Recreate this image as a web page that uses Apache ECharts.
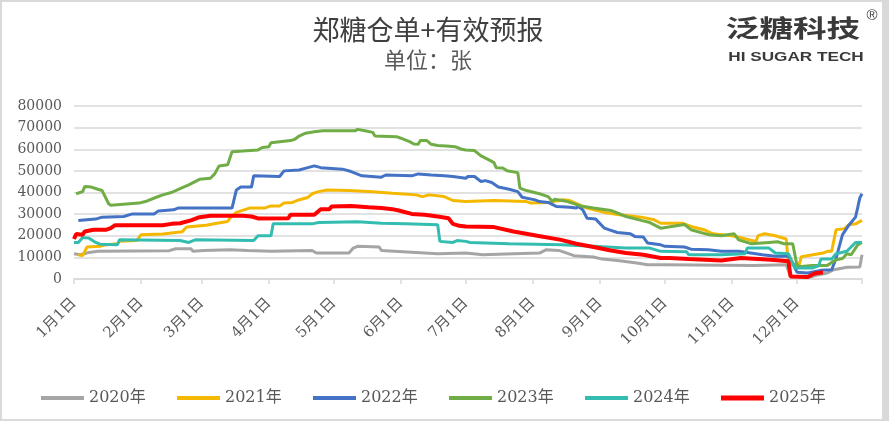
<!DOCTYPE html>
<html><head><meta charset="utf-8">
<script src="https://cdn.jsdelivr.net/npm/echarts@6/dist/echarts.min.js"></script>
<style>
html,body{margin:0;padding:0;background:#d9d9d9;width:889px;height:421px;overflow:hidden;}
#c{position:absolute;left:2px;top:2px;width:880px;height:417px;background:#fff;}
</style></head><body><div id="c"></div>
<script>
// ---- categories (day of year) ----
const monthDays = [31,28,31,30,31,30,31,31,30,31,30,31];
const categories = [];
const monthStartIdx = [];
monthDays.forEach((n, mi) => {
  monthStartIdx.push(categories.length);
  for (let d = 1; d <= n; d++) categories.push((mi + 1) + '月' + d + '日');
});
const monthStartSet = new Set(monthStartIdx);

// ---- legend names & colours ----
const years = ['2020年','2021年','2022年','2023年','2024年','2025年'];
const colors = ['#A5A5A5','#F5B800','#4472C4','#70AD47','#33BDB0','#FF0000'];

// ---- y axis ----
const yTicks = [0,10000,20000,30000,40000,50000,60000,70000,80000];

// ---- series values: [dayIndex, value] ----
const s2020 = [[0,11700],[3,11200],[7,12300],[11,12800],[44,13100],[47,14000],[54,14000],[55,12800],[60,13200],[72,13500],[80,13200],[91,12800],[110,13200],[112,12000],[127,12000],[129,14300],[131,15100],[141,14800],[142,13200],[158,12300],[168,11700],[181,12000],[189,11200],[203,11700],[215,12000],[218,13500],[224,13200],[231,10800],[240,10200],[244,9200],[251,8600],[260,7400],[265,6600],[273,6600],[314,6300],[329,6600],[331,1200],[340,900],[344,2000],[348,2800],[351,4300],[357,5400],[363,5600],[364,11200]];
const s2021 = [[2,11200],[4,10800],[6,14800],[12,15100],[14,15700],[20,16300],[21,17400],[29,17800],[31,20500],[41,20800],[50,21800],[52,24000],[61,24900],[66,25800],[71,26600],[72,28100],[75,30800],[81,32800],[88,32800],[91,33800],[95,33800],[97,35100],[101,35400],[103,36300],[105,36900],[108,37700],[110,39400],[113,40400],[117,41200],[127,40900],[138,40400],[147,39700],[158,38900],[161,38100],[164,38900],[171,38100],[175,36300],[181,35800],[194,36300],[209,35800],[211,35100],[219,35400],[226,36600],[229,36300],[237,32800],[245,30800],[252,29700],[262,28600],[268,27400],[271,25800],[281,25800],[285,24300],[291,22800],[295,20900],[304,20000],[308,19100],[315,17400],[316,20000],[319,20900],[324,20000],[329,18500],[330,6600],[335,6600],[336,10300],[346,12000],[348,12800],[350,12800],[352,22800],[356,23300],[358,25100],[361,25500],[364,27100]];
const s2022 = [[2,27100],[10,27700],[13,28600],[23,28900],[27,30100],[37,30100],[39,31500],[46,32000],[48,32800],[73,32800],[75,41200],[77,42500],[82,42500],[83,47700],[95,47400],[97,50000],[104,50400],[108,51500],[111,52300],[114,51500],[124,50800],[128,49700],[133,47700],[142,47100],[144,48100],[156,47700],[159,48600],[165,48100],[171,47700],[175,47400],[181,46600],[182,47400],[185,47400],[188,45100],[190,45500],[193,44600],[196,42500],[201,41500],[205,40400],[207,37800],[213,36600],[215,35800],[219,35400],[223,33500],[229,33200],[232,32800],[233,33500],[235,32000],[237,28100],[241,27700],[245,23500],[247,22800],[251,21500],[257,20900],[259,19700],[263,19400],[265,16600],[271,15800],[273,15100],[282,14800],[285,13800],[293,13500],[299,12800],[307,12800],[311,12300],[318,11200],[324,10500],[330,10500],[332,7400],[334,3100],[339,2800],[345,4000],[350,4300],[352,9500],[355,20500],[358,25000],[361,28600],[362,33000],[363,37500],[364,39400]];
const s2023 = [[1,39400],[4,40400],[5,42800],[8,42500],[11,41500],[13,40900],[16,34800],[17,34100],[30,35100],[33,35800],[38,37800],[41,38900],[45,40000],[49,41800],[53,43500],[58,46100],[63,46600],[65,48600],[67,52300],[71,52800],[73,58900],[78,59200],[85,59700],[87,60800],[90,61200],[91,63000],[95,63500],[100,64000],[102,64600],[104,66100],[107,67400],[111,68100],[115,68600],[130,68600],[131,69200],[135,68400],[138,67800],[139,66100],[149,65800],[151,65100],[155,63500],[157,62400],[159,62300],[160,64000],[163,64000],[165,62300],[168,61700],[172,61500],[176,61200],[179,60000],[181,59700],[185,59400],[188,56900],[191,55400],[194,53800],[195,51500],[198,51300],[200,50100],[205,49200],[206,42000],[209,40900],[215,39400],[219,38100],[221,35800],[222,36900],[228,35800],[234,33800],[240,32800],[248,31700],[255,28900],[262,27100],[266,26100],[271,23500],[282,25200],[285,22800],[293,20500],[299,20000],[305,20900],[307,18100],[313,16300],[321,16900],[325,17200],[328,16300],[332,16300],[334,6100],[336,5800],[341,6300],[348,6300],[352,8900],[355,9500],[357,11700],[359,11200],[362,15800],[364,16900]];
const s2024 = [[0,16900],[2,16900],[4,19200],[7,18900],[10,16900],[12,16100],[20,15800],[21,18100],[49,17800],[53,16900],[56,18100],[83,17800],[85,20000],[91,20000],[92,25500],[110,25500],[113,26100],[131,26500],[142,25800],[153,25500],[168,25100],[169,17400],[175,16900],[177,17800],[181,17400],[183,16900],[201,16300],[225,15800],[240,15100],[255,14300],[266,14300],[271,12800],[283,12600],[284,11200],[299,11200],[310,11700],[311,14300],[321,14300],[324,12000],[330,11700],[333,5100],[341,5100],[344,6100],[345,9200],[350,9200],[352,11700],[357,12800],[361,16900],[364,16900]];
const s2025 = [[0,18500],[1,20800],[4,20500],[5,22000],[9,22800],[15,22800],[17,23500],[19,24900],[41,24900],[45,25500],[49,25800],[54,27100],[58,28600],[63,29200],[78,29200],[82,28900],[85,28000],[99,28100],[100,29700],[111,29700],[114,32300],[118,32300],[119,33500],[128,33800],[136,33200],[142,32800],[147,32300],[150,31700],[156,30100],[162,29700],[168,28900],[173,28100],[175,25500],[178,24600],[181,24300],[194,24000],[203,22000],[214,20000],[225,18100],[232,16300],[240,14800],[248,13200],[255,12000],[263,11200],[271,9700],[275,9700],[284,9200],[299,8600],[308,9700],[322,8900],[330,8200],[331,1200],[339,900],[342,2500],[346,3100]];
const seriesData = [s2020, s2021, s2022, s2023, s2024, s2025];

const serif = "'DejaVu Serif','Noto Sans CJK SC',serif";
const cjk = "'Noto Sans CJK SC',sans-serif";

const chart = echarts.init(document.getElementById('c'), null, {renderer: 'canvas'});

const legends = years.map((y, i) => ({
  data: [y], left: 39 + i * 136, top: 388, orient: 'horizontal', padding: 0,
  icon: 'rect', itemWidth: 43, itemHeight: i === 5 ? 5 : 4, itemGap: 0,
  textStyle: {fontFamily: serif, fontSize: 16, color: '#595959'},
  selectedMode: false
}));

chart.setOption({
  animation: false,
  backgroundColor: '#ffffff',
  color: colors,
  legend: legends,
  grid: {left: 72, right: 20, top: 104, bottom: 140, containLabel: false},
  xAxis: {
    type: 'category', data: categories, boundaryGap: false,
    axisLine: {show: true, lineStyle: {color: '#d9d9d9', width: 1.5}},
    axisTick: {show: true, length: 5, interval: (i) => monthStartSet.has(i) || i === categories.length - 1,
      lineStyle: {color: '#d9d9d9', width: 1.5}},
    axisLabel: {interval: (i) => monthStartSet.has(i), rotate: 45, margin: 22,
      fontFamily: serif, fontSize: 15, color: '#595959'},
    splitLine: {show: false}
  },
  yAxis: {
    type: 'value', min: yTicks[0], max: yTicks[yTicks.length - 1], interval: yTicks[1] - yTicks[0],
    axisLine: {show: false}, axisTick: {show: false},
    axisLabel: {margin: 12, fontFamily: serif, fontSize: 14, color: '#595959', formatter: (v) => String(v)},
    splitLine: {lineStyle: {color: '#d9d9d9', width: 1.5}}
  },
  series: years.map((y, i) => ({
    name: y, type: 'line', data: seriesData[i], symbol: 'none', smooth: false,
    lineStyle: {width: i === 5 ? 4 : 3, color: colors[i]},
    itemStyle: {color: colors[i]},
    z: 2 + i
  })),
  graphic: [
    {type: 'text', x: 426, y: 28, style: {text: '郑糖仓单+有效预报', font: '27px ' + cjk, fill: '#404040', align: 'center', verticalAlign: 'middle', textAlign: 'center', textVerticalAlign: 'middle'}},
    {type: 'text', x: 426, y: 58, style: {text: '单位：张', font: '22px ' + cjk, fill: '#595959', align: 'center', verticalAlign: 'middle', textAlign: 'center', textVerticalAlign: 'middle'}},
    {type: 'text', x: 791, y: 26, scaleX: 1.4, style: {text: '泛糖科技', font: 'bold 24px ' + cjk, fill: '#3a3a3a', align: 'center', verticalAlign: 'middle', textAlign: 'center', textVerticalAlign: 'middle'}},
    {type: 'text', x: 870, y: 14, style: {text: '®', font: '15px Liberation Sans', fill: '#3a3a3a', align: 'center', verticalAlign: 'middle', textAlign: 'center', textVerticalAlign: 'middle'}},
    {type: 'text', x: 794, y: 55, scaleX: 1.32, style: {text: 'HI SUGAR TECH', font: 'bold 13px Liberation Sans', fill: '#3a3a3a', align: 'center', verticalAlign: 'middle', textAlign: 'center', textVerticalAlign: 'middle'}}
  ]
});
</script></body></html>
